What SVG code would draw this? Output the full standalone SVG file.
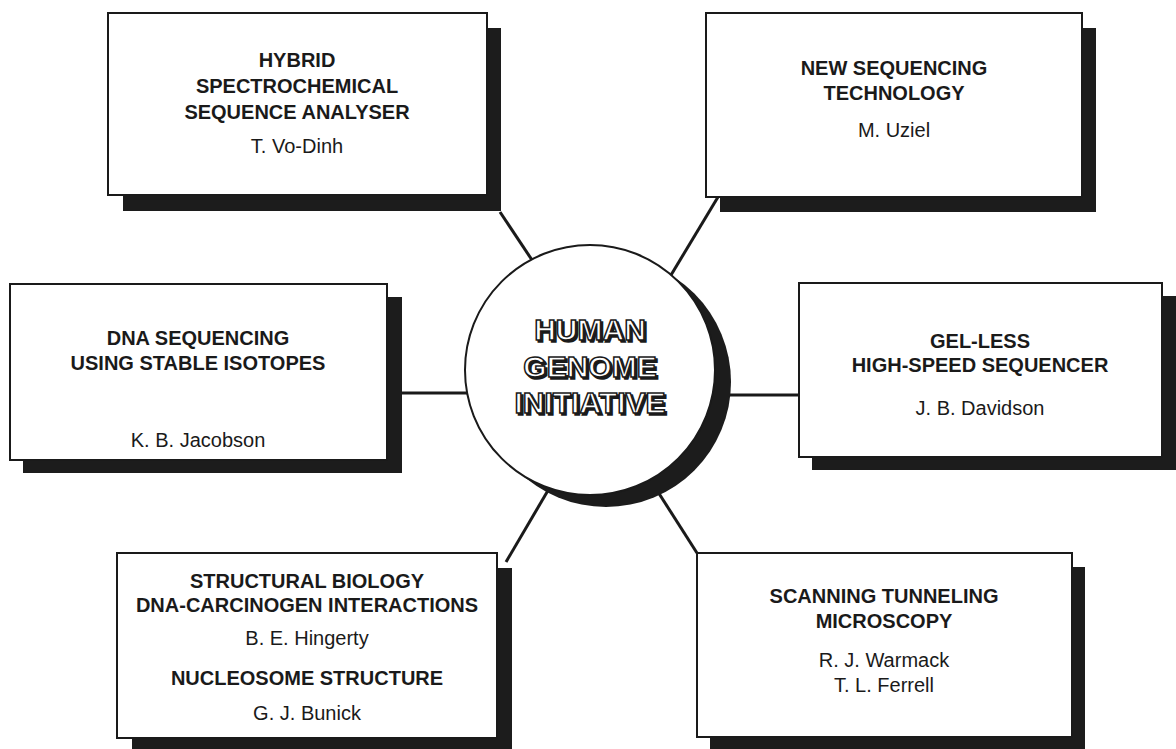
<svg xmlns="http://www.w3.org/2000/svg" width="1176" height="749" viewBox="0 0 1176 749">
<style>
.bg{fill:#fff}
.box{fill:#fff;stroke:#1a1a1a;stroke-width:2}
.shadow{fill:#1c1c1c}
.conn{stroke:#1a1a1a;stroke-width:3;fill:none}
.t{font-family:"Liberation Sans",Arial,sans-serif;font-size:20px;fill:#1a1a1a;text-anchor:middle}
.b{font-weight:bold}
.hub{font-family:"Liberation Sans",Arial,sans-serif;font-size:30px;font-weight:bold;text-anchor:middle}
.hubs{fill:#1a1a1a;stroke:#1a1a1a;stroke-width:1.5}
.hubf{fill:#fff;stroke:#1a1a1a;stroke-width:1.5}
</style>
<rect class="bg" x="0" y="0" width="1176" height="749"/>
<g id="connectors">
<line class="conn" x1="500" y1="212" x2="552" y2="290"/>
<line class="conn" x1="718" y1="197" x2="656" y2="300"/>
<line class="conn" x1="402" y1="393" x2="480" y2="393"/>
<line class="conn" x1="700" y1="395" x2="799" y2="395"/>
<line class="conn" x1="506" y1="562" x2="560" y2="470"/>
<line class="conn" x1="644" y1="470" x2="697" y2="553"/>
</g>
<g id="hub">
<circle class="shadow" cx="606" cy="382" r="125"/>
<circle cx="590" cy="370" r="125" fill="#fff" stroke="#1a1a1a" stroke-width="2"/>
<g class="hub hubs" transform="translate(2,2)">
<text x="590" y="340">HUMAN</text>
<text x="590" y="377">GENOME</text>
<text x="590" y="413">INITIATIVE</text>
</g>
<g class="hub hubf">
<text x="590" y="340">HUMAN</text>
<text x="590" y="377">GENOME</text>
<text x="590" y="413">INITIATIVE</text>
</g>
</g>
<g id="hybrid">
<rect class="shadow" x="123" y="28" width="378" height="183"/>
<rect class="box" x="108" y="13" width="379" height="182"/>
<text class="t b" x="297" y="67">HYBRID</text>
<text class="t b" x="297" y="93">SPECTROCHEMICAL</text>
<text class="t b" x="297" y="119">SEQUENCE ANALYSER</text>
<text class="t" x="297" y="153">T. Vo-Dinh</text>
</g>
<g id="newseq">
<rect class="shadow" x="720" y="28" width="376" height="184"/>
<rect class="box" x="706" y="13" width="376" height="184"/>
<text class="t b" x="894" y="75">NEW SEQUENCING</text>
<text class="t b" x="894" y="100">TECHNOLOGY</text>
<text class="t" x="894" y="137">M. Uziel</text>
</g>
<g id="dna">
<rect class="shadow" x="23" y="297" width="379" height="176"/>
<rect class="box" x="10" y="284" width="377" height="176"/>
<text class="t b" x="198" y="345">DNA SEQUENCING</text>
<text class="t b" x="198" y="370">USING STABLE ISOTOPES</text>
<text class="t" x="198" y="447">K. B. Jacobson</text>
</g>
<g id="gelless">
<rect class="shadow" x="812" y="296" width="364" height="174"/>
<rect class="box" x="799" y="283" width="363" height="174"/>
<text class="t b" x="980" y="348">GEL-LESS</text>
<text class="t b" x="980" y="372">HIGH-SPEED SEQUENCER</text>
<text class="t" x="980" y="415">J. B. Davidson</text>
</g>
<g id="structural">
<rect class="shadow" x="132" y="568" width="380" height="185"/>
<rect class="box" x="117" y="553" width="380" height="185"/>
<text class="t b" x="307" y="588">STRUCTURAL BIOLOGY</text>
<text class="t b" x="307" y="612">DNA-CARCINOGEN INTERACTIONS</text>
<text class="t" x="307" y="645">B. E. Hingerty</text>
<text class="t b" x="307" y="685">NUCLEOSOME STRUCTURE</text>
<text class="t" x="307" y="720">G. J. Bunick</text>
</g>
<g id="scanning">
<rect class="shadow" x="710" y="567" width="375" height="185"/>
<rect class="box" x="697" y="553" width="375" height="184"/>
<text class="t b" x="884" y="603">SCANNING TUNNELING</text>
<text class="t b" x="884" y="628">MICROSCOPY</text>
<text class="t" x="884" y="667">R. J. Warmack</text>
<text class="t" x="884" y="692">T. L. Ferrell</text>
</g>
</svg>
